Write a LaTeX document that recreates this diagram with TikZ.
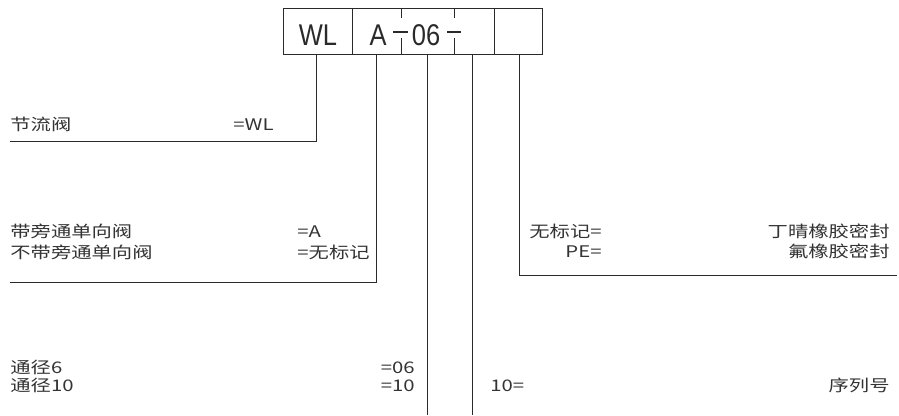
\documentclass[tikz,border=0pt]{standalone}
\usepackage{fontspec}
\setmainfont{Noto Sans CJK SC}[FakeStretch=1.27]
\newfontfamily\boxfont{Liberation Sans}[FakeStretch=0.85]
\definecolor{ink}{HTML}{2A2A2A}
\definecolor{txt}{HTML}{333333}
\begin{document}
\begin{tikzpicture}[x=1pt,y=-1pt,line width=0.8pt,draw=ink,
  lbl/.style={font=\fontsize{16}{19}\selectfont,inner sep=0pt,text=txt},
  lw/.style={lbl,anchor=base west},
  le/.style={lbl,anchor=base east},
  boxtxt/.style={font=\boxfont\fontsize{30}{32}\selectfont,inner sep=0pt,anchor=base,text=ink},
  conn/.style={draw=ink,line width=0.8pt}]
\useasboundingbox (0,0) rectangle (899,415);
% code box
\node[draw=ink,line width=0.8pt,minimum width=259pt,minimum height=46pt,inner sep=0pt,anchor=north west] (box) at (283,8) {};
\draw[conn] (352,8) -- (352,54);
\draw[conn] (494,8) -- (494,54);
\draw[conn] (401,8) -- (401,18) (401,38) -- (401,54);
\draw[conn] (454,8) -- (454,18) (454,38) -- (454,54);
\draw[ink,line width=1.3pt] (393,32) -- (408,32) (447,32) -- (461,32);
\node[boxtxt] (tWL) at (318,45) {WL};
\node[boxtxt] (tA) at (378,45) {A};
\node[boxtxt] (t06) at (426,45) {06};
% connector start points on box bottom
\coordinate (s1) at (316,54);
\coordinate (s2) at (376,54);
\coordinate (s3) at (427,54);
\coordinate (s4) at (472,54);
\coordinate (s5) at (519,54);
\coordinate (e1) at (10,141);
\coordinate (e2) at (10,282);
\coordinate (e3) at (427,415);
\coordinate (e4) at (472,415);
\coordinate (e5) at (897,275);
\draw[conn] (s1) |- (e1);
\draw[conn] (s2) |- (e2);
\draw[conn] (s3) -- (e3);
\draw[conn] (s4) -- (e4);
\draw[conn] (s5) |- (e5);
% labels
\node[lw] (n1) at (10,130) {节流阀};
\node[lw] (n1v) at (233,130) {=WL};
\node[lw] (n2) at (10,237) {带旁通单向阀};
\node[lw] (n2v) at (297,237) {=A};
\node[lw] (n3) at (10,258) {不带旁通单向阀};
\node[lw] (n3v) at (297,258) {=无标记};
\node[le] (m1) at (602,237) {无标记=};
\node[le] (m1v) at (890,237) {丁晴橡胶密封};
\node[le] (m2) at (602,257) {PE=};
\node[le] (m2v) at (890,257) {氟橡胶密封};
\node[lw] (p1) at (10,373) {通径6};
\node[le] (p1v) at (415,373) {=06};
\node[lw] (p2) at (10,391) {通径10};
\node[le] (p2v) at (415,391) {=10};
\node[lw] (q1) at (490,391) {10=};
\node[le] (q1v) at (890,391) {序列号};
\end{tikzpicture}
\end{document}
